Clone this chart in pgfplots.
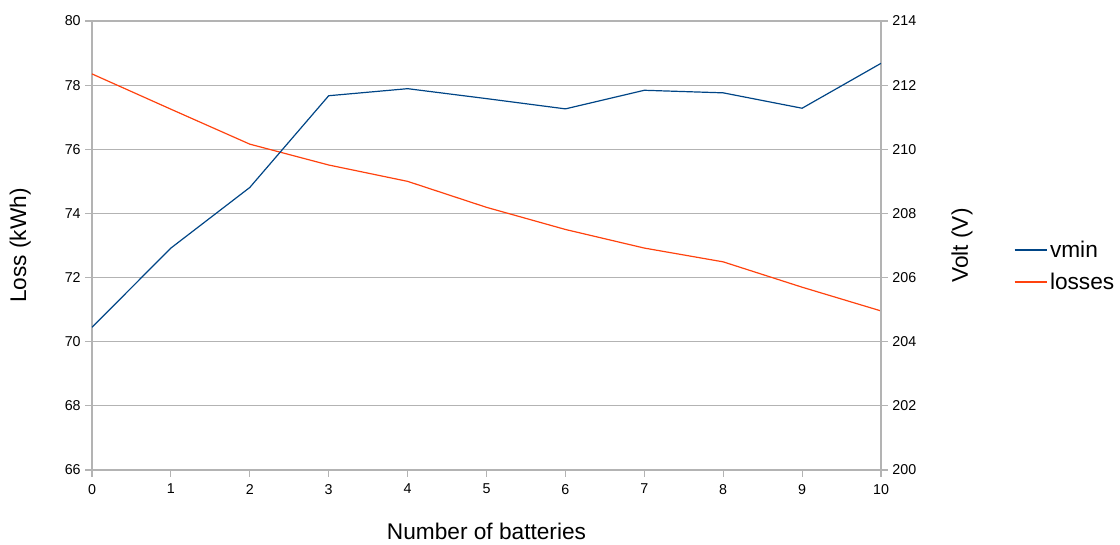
\documentclass[border=0pt]{standalone}
\usepackage{fontspec}
\setmainfont{Liberation Sans}
\usepackage{pgfplots}
\pgfplotsset{compat=1.18}

\definecolor{vblue}{HTML}{004586}
\definecolor{lorange}{HTML}{FF420E}
\definecolor{axgray}{HTML}{B3B3B3}

\newcommand{\labfont}{\fontsize{17}{20}\selectfont}

\pgfplotsset{
  common/.style={
    scale only axis,
    width=591.75pt, height=336.75pt,
    xmin=0, xmax=10,
    axis line style={axgray, line width=1pt},
    tick style={axgray, line width=0.8pt},
    tick align=outside,
    major tick length=5pt,
    ticklabel style={font=\fontsize{10.7}{12}\selectfont},
    xticklabel style={yshift=-2pt},
    /pgf/number format/assume math mode=true,
  },
}

\begin{document}
\begin{tikzpicture}
\path[use as bounding box] (-69pt,-55.5pt) rectangle (771pt,352.5pt);

% left axis: losses
\begin{axis}[
    common,
    ymin=66, ymax=80,
    ytick={66,68,70,72,74,76,78,80},
    xtick={0,1,2,3,4,5,6,7,8,9,10},
    xtick pos=bottom,
    ytick pos=left,
    ymajorgrids=true,
    grid style={axgray, line width=0.75pt},
    xlabel={Number of batteries},
    ylabel={Loss (kWh)},
    every axis x label/.style={at={(axis description cs:0.5,-0.136)}, anchor=center, font=\labfont},
    every axis y label/.style={at={(axis description cs:-0.091,0.5)}, anchor=center, rotate=90, font=\labfont},
]
\addplot[lorange, line width=0.9pt] coordinates {
  (0,78.35) (1,77.25) (2,76.16) (3,75.51) (4,75.00) (5,74.19)
  (6,73.50) (7,72.92) (8,72.49) (9,71.70) (10,70.96)
};
\end{axis}

% right axis: vmin
\begin{axis}[
    common,
    ymin=200, ymax=214,
    ytick={200,202,204,206,208,210,212,214},
    axis x line=none,
    axis y line*=right,
    ylabel={Volt (V)},
    every axis y label/.style={at={(axis description cs:1.1027,0.5)}, anchor=center, rotate=90, font=\labfont},
    legend style={draw=none, fill=none, at={(axis description cs:1.163,0.4545)}, anchor=west,
      font=\labfont, row sep=6pt,
      /tikz/every even column/.append style={column sep=8pt}},
    legend cell align=left,
    legend image code/.code={\draw[#1, line width=1.1pt] (0pt,0pt) -- (24pt,0pt);},
]
\addplot[vblue, line width=0.9pt] coordinates {
  (0,204.45) (1,206.92) (2,208.81) (3,211.67) (4,211.89) (5,211.58)
  (6,211.26) (7,211.84) (8,211.76) (9,211.28) (10,212.68)
};
\addlegendentry{vmin}
\addlegendimage{draw=lorange}
\addlegendentry{losses}
\end{axis}
\end{tikzpicture}
\end{document}
